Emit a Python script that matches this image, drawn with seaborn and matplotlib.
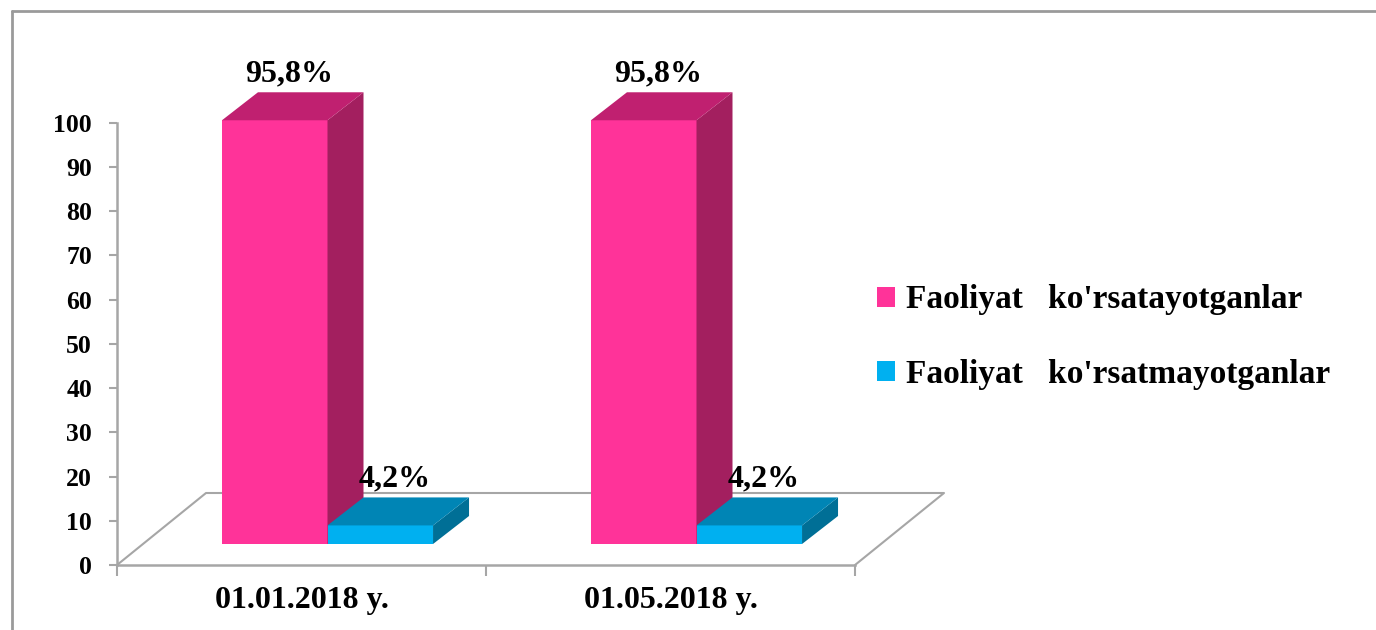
import numpy as np
import pandas as pd
import matplotlib
matplotlib.use("Agg")
import matplotlib.pyplot as plt
from matplotlib.patches import Polygon, Patch
from matplotlib.lines import Line2D
import seaborn as sns

# ---- data ----
dates = ["01.01.2018 y.", "01.05.2018 y."]
series_names = ["Faoliyat   ko'rsatayotganlar", "Faoliyat   ko'rsatmayotganlar"]
active = [95.8, 95.8]
inactive = [4.2, 4.2]
y_ticks = [0, 10, 20, 30, 40, 50, 60, 70, 80, 90, 100]

front_colors = ["#FF3399", "#00B0F0"]
top_colors = ["#C02070", "#0085B5"]
side_colors = ["#A31F5F", "#006F96"]

df = pd.DataFrame({
    "date": dates * 2,
    "series": [series_names[0]] * 2 + [series_names[1]] * 2,
    "value": active + inactive,
})

sns.set_style("white")
plt.rcParams["font.family"] = ["Liberation Serif", "DejaVu Serif"]
plt.rcParams["font.weight"] = "bold"
plt.rcParams["text.color"] = "black"
plt.rcParams["xtick.labelcolor"] = "black"
plt.rcParams["ytick.labelcolor"] = "black"

W, H, DPI = 1376, 630, 100
fig = plt.figure(figsize=(W / DPI, H / DPI), dpi=DPI)

# front plane axes
L, R, B, T = 117, 855, 565, 122.7
ax = fig.add_axes([L / W, 1 - B / H, (R - L) / W, (B - T) / H])
ax.set_xlim(-0.5, 1.5)
ax.set_ylim(0, 100)
px_x = (R - L) / 2.0          # px per x data unit
px_y = (B - T) / 100.0        # px per y data unit

# bar plane axes (shifted back in depth)
shift_x, shift_y = 26, 21
axb = fig.add_axes([(L + shift_x) / W, 1 - (B - shift_y) / H, (R - L) / W, (B - T) / H])
axb.set_xlim(-0.5, 1.5)
axb.set_ylim(0, 100)
axb.patch.set_alpha(0)
axb.axis("off")

sns.barplot(data=df, x="date", y="value", hue="series", palette=front_colors,
            width=0.572, gap=0, saturation=1, linewidth=0, legend=False, ax=axb)
axb.set_xlim(-0.5, 1.5)
axb.set_ylim(0, 100)

# 3D faces
dep_x = 36 / px_x
dep_y = 28 / px_y
bars = sorted([p for p in axb.patches if p.get_height() > 0], key=lambda p: p.get_x())
for i, p in enumerate(bars):
    x0, w, h = p.get_x(), p.get_width(), p.get_height()
    hexc = matplotlib.colors.to_hex(p.get_facecolor()).upper()
    ci = front_colors.index(hexc) if hexc in front_colors else 0
    z = 2 + i * 0.1
    p.set_zorder(z)
    side = Polygon([[x0 + w, 0], [x0 + w + dep_x, dep_y], [x0 + w + dep_x, h + dep_y], [x0 + w, h]],
                   closed=True, facecolor=side_colors[ci], edgecolor="none", zorder=z + 0.01, clip_on=False)
    top = Polygon([[x0, h], [x0 + dep_x, h + dep_y], [x0 + w + dep_x, h + dep_y], [x0 + w, h]],
                  closed=True, facecolor=top_colors[ci], edgecolor="none", zorder=z + 0.02, clip_on=False)
    axb.add_patch(side)
    axb.add_patch(top)
    lab = f"{h:.1f}".replace(".", ",") + "%"
    axb.annotate(lab, xy=(x0 + w / 2 + dep_x * 0.4, h + dep_y), xytext=(0, 3),
                 textcoords="offset points", ha="center", va="bottom", color="black",
                 fontsize=23, fontweight="bold", zorder=10, annotation_clip=False)

# floor (perspective)
fl_x = 89 / px_x
fl_y = 72 / px_y
floor_col = "#A6A6A6"
ax.plot([-0.5, -0.5 + fl_x, 1.5 + fl_x, 1.5], [0, fl_y, fl_y, 0],
        color=floor_col, lw=1.5, clip_on=False, zorder=1)

# axes styling
for s in ["top", "right"]:
    ax.spines[s].set_visible(False)
for s in ["left", "bottom"]:
    ax.spines[s].set_color(floor_col)
    ax.spines[s].set_linewidth(1.8)
ax.set_yticks(y_ticks)
ax.set_yticklabels([str(t) for t in y_ticks], fontsize=18.5, fontweight="bold")
ax.tick_params(axis="y", direction="out", length=6, width=1.5, color=floor_col, pad=12, left=True)
ax.set_xticks([-0.5, 0.5, 1.5])
ax.set_xticklabels([])
ax.tick_params(axis="x", which="major", direction="out", length=8, width=1.5, color=floor_col, bottom=True)
ax.set_xticks([0, 1], minor=True)
ax.set_xticklabels(dates, minor=True, fontsize=23, fontweight="bold")
ax.tick_params(axis="x", which="minor", length=0, pad=15)
ax.set_xlabel("")
ax.set_ylabel("")
ax.patch.set_alpha(0)

# legend
handles = [Patch(facecolor=c, edgecolor="none") for c in front_colors]
fig.legend(handles, series_names, loc="center left", bbox_to_anchor=(877 / W, 1 - 337 / H),
           frameon=False, borderpad=0, borderaxespad=0, handlelength=0.55, handleheight=0.55,
           handletextpad=0.33, labelspacing=1.3, labelcolor="black",
           prop={"family": "Liberation Serif", "weight": "bold", "size": 24})

# outer frame (top & left edges visible)
fig.add_artist(Line2D([12 / W, 1], [1 - 11 / H, 1 - 11 / H], transform=fig.transFigure, color="#9A9A9A", lw=2))
fig.add_artist(Line2D([12 / W, 12 / W], [0, 1 - 11 / H], transform=fig.transFigure, color="#9A9A9A", lw=2))

fig.savefig("out.png", dpi=DPI)
